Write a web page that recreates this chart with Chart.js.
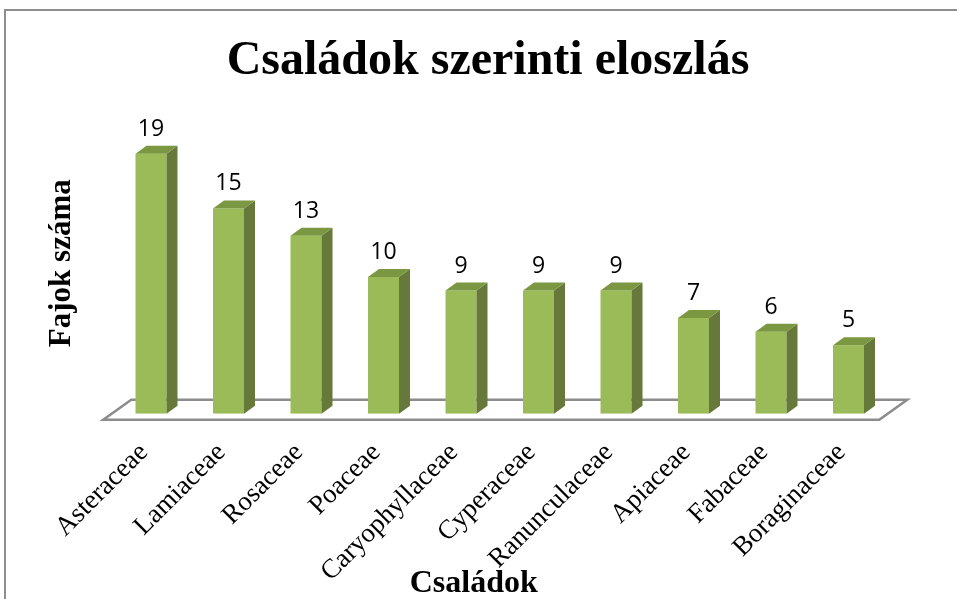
<!DOCTYPE html>
<html><head><meta charset="utf-8">
<script src="https://cdn.jsdelivr.net/npm/chart.js@4/dist/chart.umd.min.js"></script>
<style>
html,body{margin:0;padding:0;background:#fff;overflow:hidden;}
#wrap{position:relative;width:957px;height:599px;overflow:hidden;}
#frame{position:absolute;left:4px;top:9px;width:1000px;height:700px;border-top:2px solid #8e8e8e;border-left:2px solid #8e8e8e;}
canvas{position:absolute;left:0;top:0;}
</style></head><body>
<div id="wrap"><div id="frame"></div><canvas id="c" width="957" height="599"></canvas></div>
<script>
const categories = ['Asteraceae','Lamiaceae','Rosaceae','Poaceae','Caryophyllaceae','Cyperaceae','Ranunculaceae','Apiaceae','Fabaceae','Boraginaceae'];
const speciesCounts = [19,15,13,10,9,9,9,7,6,5];
const chartTitle = 'Családok szerinti eloszlás';
const xAxisTitle = 'Családok';
const yAxisTitle = 'Fajok száma';
const yAxisMax = 22;

const SERIF = "'Liberation Serif','Times New Roman',serif";
const colors = {front:'#9bbb59', side:'#67793a', top:'#7b9741', floor:'#8c8c8c'};
const depth = {dx:11, dy:-8};

const bar3d = {
  id:'bar3d',
  beforeDatasetsDraw(chart){
    const ctx = chart.ctx, a = chart.chartArea;
    const base = chart.scales.y.getPixelForValue(0);
    const fy = base + 6, by = base - 14;
    const fl = a.left - 9, fr = a.right - 8, sh = 28;
    ctx.save();
    ctx.beginPath();
    ctx.moveTo(fl, fy); ctx.lineTo(fr, fy); ctx.lineTo(fr + sh, by); ctx.lineTo(fl + sh, by); ctx.closePath();
    ctx.fillStyle = '#ffffff'; ctx.fill();
    ctx.lineWidth = 2.5; ctx.strokeStyle = colors.floor; ctx.lineJoin = 'miter';
    ctx.stroke();
    ctx.restore();
  },
  afterDatasetsDraw(chart){
    const ctx = chart.ctx;
    const meta = chart.getDatasetMeta(0);
    ctx.save();
    meta.data.forEach((bar, i) => {
      const {x, y, base, width} = bar.getProps(['x','y','base','width'], true);
      const l = x - width/2, r = x + width/2;
      ctx.beginPath();
      ctx.moveTo(r, y); ctx.lineTo(r + depth.dx, y + depth.dy); ctx.lineTo(r + depth.dx, base + depth.dy); ctx.lineTo(r, base); ctx.closePath();
      ctx.fillStyle = colors.side; ctx.fill();
      ctx.beginPath();
      ctx.moveTo(l, y); ctx.lineTo(l + depth.dx, y + depth.dy); ctx.lineTo(r + depth.dx, y + depth.dy); ctx.lineTo(r, y); ctx.closePath();
      ctx.fillStyle = colors.top; ctx.fill();
      ctx.fillStyle = '#000';
      ctx.font = "23px 'Open Sans', sans-serif";
      ctx.textAlign = 'center'; ctx.textBaseline = 'alphabetic';
      ctx.fillText(String(speciesCounts[i]), x, y - 18);
    });
    ctx.restore();
  },
  afterDraw(chart){
    const ctx = chart.ctx, a = chart.chartArea;
    ctx.save();
    ctx.fillStyle = '#000';
    ctx.font = "bold 32px " + SERIF;
    ctx.textAlign = 'center'; ctx.textBaseline = 'alphabetic';
    ctx.fillText(xAxisTitle, (a.left + a.right)/2 - 26, 592);
    ctx.restore();
  }
};

new Chart(document.getElementById('c'), {
  type:'bar',
  data:{
    labels:categories,
    datasets:[{
      data:speciesCounts,
      backgroundColor:colors.front,
      borderWidth:0,
      barPercentage:0.4,
      categoryPercentage:1
    }]
  },
  options:{
    responsive:false,
    animation:false,
    devicePixelRatio:1,
    layout:{padding:{left:88.75, right:69.75, top:0, bottom:-12}},
    plugins:{
      legend:{display:false},
      tooltip:{enabled:false},
      title:{display:true, text:chartTitle, color:'#000',
        font:{family:SERIF, size:48, weight:'bold'}, padding:{top:33, bottom:22}}
    },
    scales:{
      x:{
        grid:{display:false, drawTicks:false},
        border:{display:false},
        ticks:{color:'#000', font:{family:SERIF, size:27}, minRotation:45, maxRotation:45, autoSkip:false, padding:23, labelOffset:-7}
      },
      y:{
        min:0, max:yAxisMax,
        grid:{display:false, drawTicks:false},
        border:{display:false},
        ticks:{display:false},
        title:{display:true, text:yAxisTitle, color:'#000', font:{family:SERIF, size:31, weight:'bold'}, padding:{top:-45.35, bottom:31.65}}
      }
    }
  },
  plugins:[bar3d]
});
</script>
</body></html>
